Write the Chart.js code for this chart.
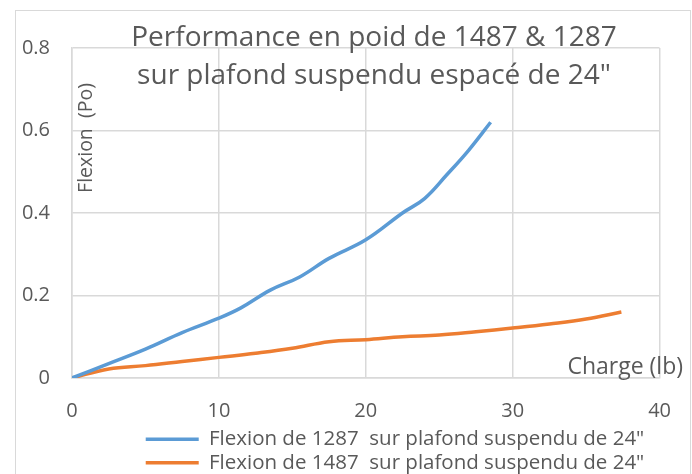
<!DOCTYPE html>
<html>
<head>
<meta charset="utf-8">
<script src="https://cdn.jsdelivr.net/npm/chart.js@4"></script>
<style>
  html, body { margin: 0; padding: 0; background: #fff; }
  #wrap { width: 692px; height: 474px; }
</style>
</head>
<body>
<div id="wrap"><canvas id="chart" width="692" height="474"></canvas></div>
<script>
// valeurs
const charge1287 = [0, 2.5, 5, 7.5, 10, 11.5, 13.5, 15.5, 17.5, 20, 22.5, 24, 25.5, 27, 28.5];
const flexion1287 = [0, 0.035, 0.07, 0.11, 0.145, 0.17, 0.213, 0.245, 0.29, 0.335, 0.4, 0.435, 0.492, 0.552, 0.62];
const charge1487 = [0, 2.5, 5, 7.5, 10, 12.5, 15, 17.5, 20, 22.5, 25, 27.5, 30, 32.5, 35, 37.4];
const flexion1487 = [0, 0.022, 0.03, 0.04, 0.05, 0.06, 0.072, 0.088, 0.093, 0.1, 0.104, 0.112, 0.121, 0.131, 0.143, 0.16];
const seriesLabels = ['Flexion de 1287  sur plafond suspendu de 24"', 'Flexion de 1487  sur plafond suspendu de 24"'];
const titleLines = ['Performance en poid de 1487 & 1287', 'sur plafond suspendu espacé de 24"'];
const yTitle = 'Flexion  (Po)';
const xTitle = 'Charge (lb)';

const FONT = "'Open Sans', sans-serif";
const TXT = '#595959';
const GRID = '#d9d9d9';

const toPoints = (xs, ys) => xs.map((x, i) => ({ x: x, y: ys[i] }));

// textes placés dans la zone du graphique, comme dans Excel
const overlayText = {
  id: 'overlayText',
  beforeDraw(chart) {
    const ctx = chart.ctx;
    ctx.save();
    ctx.strokeStyle = GRID;
    ctx.lineWidth = 1;
    ctx.strokeRect(15.5, 10.5, 675, 500);
    ctx.restore();
  },
  afterDraw(chart) {
    const ctx = chart.ctx;
    const a = chart.chartArea;
    ctx.save();
    ctx.fillStyle = TXT;
    ctx.textBaseline = 'alphabetic';
    ctx.textAlign = 'center';
    ctx.font = '28px ' + FONT;
    ctx.fillText(titleLines[0], 374, 46);
    ctx.fillText(titleLines[1], 374, 84);

    ctx.font = '23px ' + FONT;
    ctx.textAlign = 'right';
    ctx.fillText(xTitle, 683, a.bottom - 4);

    ctx.translate(a.left + 20, 138);
    ctx.rotate(-Math.PI / 2);
    ctx.textAlign = 'center';
    ctx.font = '19.5px ' + FONT;
    ctx.fillText(yTitle, 0, 0);
    ctx.restore();
  },
  afterLayout(chart) {
    // décale la légende comme dans l'original
    if (chart.legend) {
      chart.legend.left += 56;
      chart.legend.right += 56;
      chart.legend.top += 9;
      chart.legend.bottom += 9;
    }
  }
};

new Chart(document.getElementById('chart'), {
  type: 'line',
  data: {
    datasets: [
      { label: seriesLabels[0], data: toPoints(charge1287, flexion1287), borderColor: '#5b9bd5', backgroundColor: '#5b9bd5', borderWidth: 3.5, pointRadius: 0, tension: 0.4, fill: false },
      { label: seriesLabels[1], data: toPoints(charge1487, flexion1487), borderColor: '#ed7d31', backgroundColor: '#ed7d31', borderWidth: 3.5, pointRadius: 0, tension: 0.4, fill: false }
    ]
  },
  options: {
    responsive: false,
    animation: false,
    layout: { padding: { left: 15, top: 48, right: 29, bottom: 0 } },
    scales: {
      x: {
        type: 'linear', min: 0, max: 40,
        ticks: { stepSize: 10, color: TXT, font: { family: FONT, size: 20 }, padding: 21 },
        grid: { color: GRID, lineWidth: 1.5, drawTicks: false },
        border: { color: GRID, width: 1.5 },
        afterFit(scale) { scale.height = 39; }
      },
      y: {
        min: 0, max: 0.8,
        ticks: { stepSize: 0.2, color: TXT, font: { family: FONT, size: 20 }, padding: 22 },
        grid: { color: GRID, lineWidth: 1.5, drawTicks: false },
        border: { color: GRID, width: 1.5 },
        afterFit(scale) { scale.width = 57; }
      }
    },
    plugins: {
      title: { display: false },
      tooltip: { enabled: false },
      legend: {
        position: 'bottom',
        labels: {
          color: TXT, font: { family: FONT, size: 20.5, lineHeight: 1 },
          usePointStyle: true, pointStyle: 'line', pointStyleWidth: 53,
          padding: 3
        }
      }
    }
  },
  plugins: [overlayText]
});
</script>
</body>
</html>
